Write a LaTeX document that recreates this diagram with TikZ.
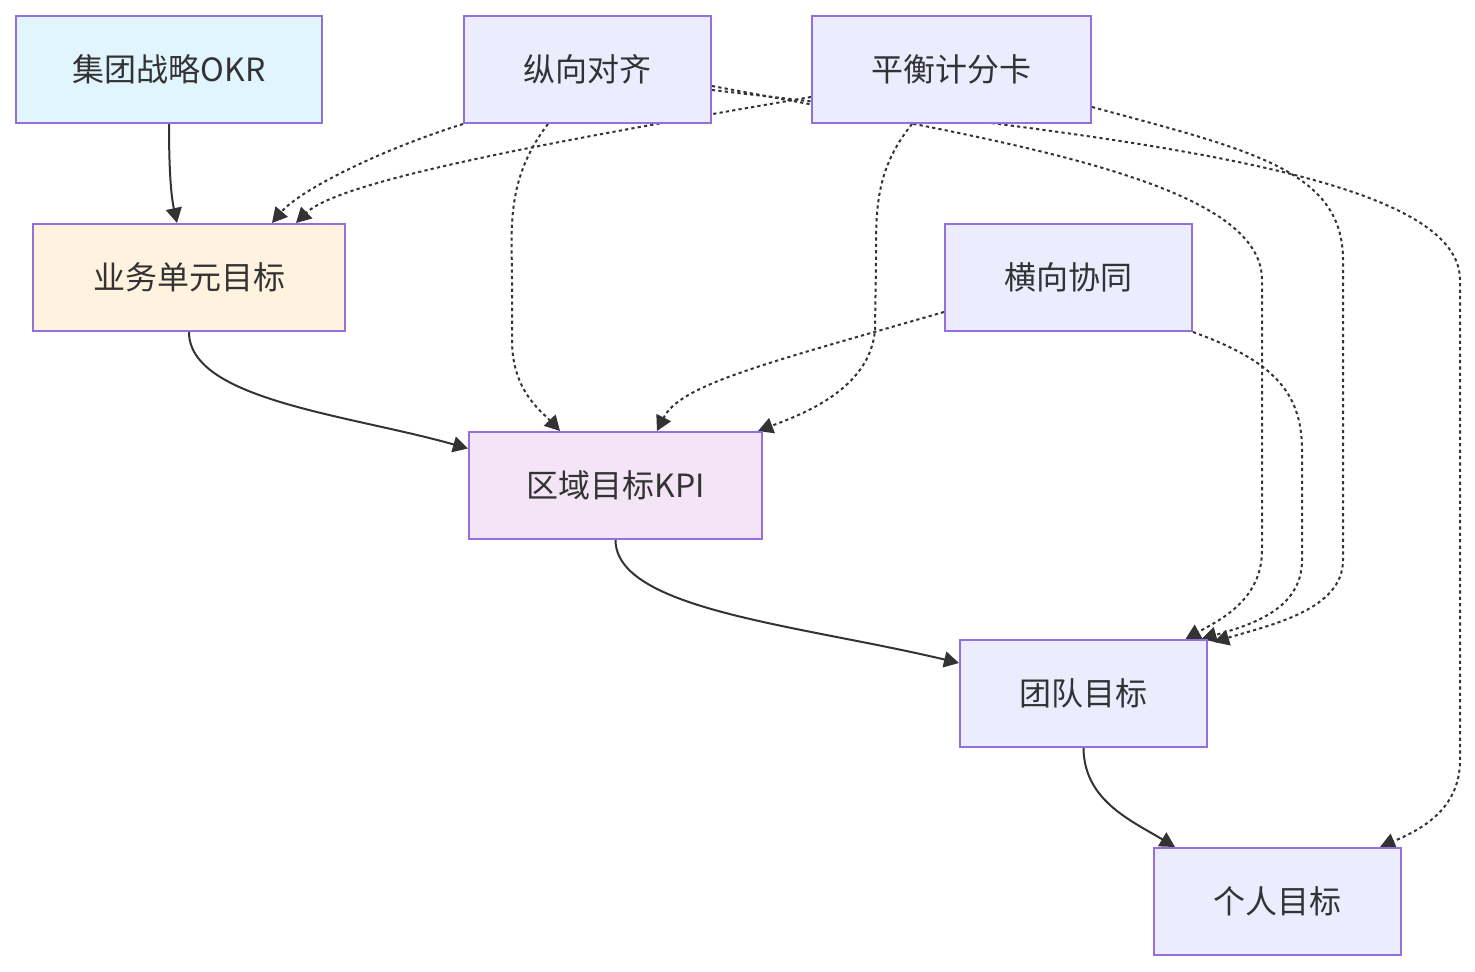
\documentclass[tikz,border=0pt]{standalone}
\usepackage{fontspec}
\setmainfont{Noto Sans CJK SC}
\usetikzlibrary{arrows.meta,calc}
\definecolor{nodeedge}{HTML}{9370DB}
\definecolor{nodefill}{HTML}{ECECFF}
\definecolor{groupfill}{HTML}{E1F5FE}
\definecolor{unitfill}{HTML}{FFF3E0}
\definecolor{areafill}{HTML}{F3E5F5}
\definecolor{edgeink}{HTML}{333333}
\pgfdeclarelayer{edges}
\pgfsetlayers{edges,main}

\begin{document}
\begin{tikzpicture}[x=0.5pt,y=-0.5pt,
  block/.style={draw=nodeedge, line width=1pt, fill=nodefill, rectangle, minimum height=53.5pt, inner sep=0pt, text=edgeink, font=\fontsize{16pt}{19pt}\selectfont},
  link/.style={draw=edgeink, line width=1pt, -{Triangle[length=7.5pt,width=8pt]}},
  dlink/.style={link, dash pattern=on 1.6pt off 1.6pt}]
\useasboundingbox (0,0) rectangle (1475,972);
\node[block, fill=groupfill, minimum width=153pt] (okr) at (169,69.5) {集团战略OKR};
\node[block, minimum width=123.5pt] (vert) at (587.5,69.5) {纵向对齐};
\node[block, minimum width=139.5pt] (bsc) at (951.5,69.5) {平衡计分卡};
\node[block, fill=unitfill, minimum width=156pt] (bu) at (189,277.5) {业务单元目标};
\node[block, minimum width=123.5pt] (hor) at (1068.5,277.5) {横向协同};
\node[block, fill=areafill, minimum width=146.5pt] (kpi) at (615.5,485.5) {区域目标KPI};
\node[block, minimum width=123.5pt] (team) at (1083.5,693.5) {团队目标};
\node[block, minimum width=123.5pt] (pers) at (1277.5,901.5) {个人目标};
\begin{pgfonlayer}{edges}
\draw[link] (okr.south) .. controls (169,180) and (172,200) .. ($(bu.north)+(-12,0)$);
\draw[link] (bu.south) .. controls (189,400) and (350,415) .. ($(kpi.west)+(0,-37)$);
\draw[link] (kpi.south) .. controls (616,610) and (800,625) .. ($(team.west)+(0,-30.5)$);
\draw[link] (team.south) .. controls (1084,800) and (1130,820) .. ($(pers.north)+(-102.5,0)$);
\draw[dlink] (vert.south west) .. controls (380,150) and (300,190) .. ($(bu.north)+(83,0)$);
\draw[dlink] ($(bsc.west)+(0,27.5)$) .. controls (560,140) and (340,180) .. ($(bu.north)+(107,0)$);
\draw[dlink] ($(vert.south)+(-39.5,0)$) .. controls (505,180) and (512,230) .. (512,280) -- (512,340) .. controls (512,390) and (540,410) .. ($(kpi.north)+(-55.5,0)$);
\draw[dlink] ($(bsc.south)+(-39.5,0)$) .. controls (875,170) and (876,210) .. (876,260) -- (875,330) .. controls (870,390) and (800,415) .. ($(kpi.north east)+(-5,0)$);
\draw[dlink] ($(hor.west)+(0,34.5)$) .. controls (760,365) and (680,385) .. ($(kpi.north)+(41.5,0)$);
\draw[dlink] ($(vert.east)+(0,16.5)$) .. controls (1000,140) and (1262,180) .. (1262,280) -- (1262,550) .. controls (1262,600) and (1220,620) .. ($(team.north)+(102,0)$);
\draw[dlink] ($(vert.east)+(0,20.5)$) .. controls (1100,135) and (1460,170) .. (1460,280) -- (1460,760) .. controls (1460,810) and (1420,830) .. ($(pers.north)+(102.5,0)$);
\draw[dlink] ($(bsc.east)+(0,37.5)$) .. controls (1250,150) and (1343,170) .. (1343,260) -- (1343,560) .. controls (1343,610) and (1270,625) .. ($(team.north east)+(6,3)$);
\draw[dlink] (hor.south east) .. controls (1270,360) and (1302,390) .. (1302,450) -- (1302,560) .. controls (1302,610) and (1250,625) .. ($(team.north)+(118,0)$);
\end{pgfonlayer}
\end{tikzpicture}
\end{document}
